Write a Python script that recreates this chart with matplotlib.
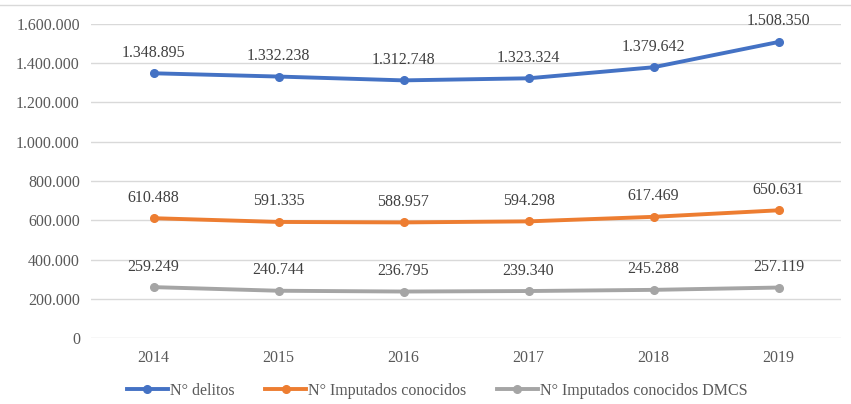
import matplotlib
matplotlib.use("Agg")
import matplotlib.pyplot as plt
from matplotlib.ticker import FuncFormatter
from matplotlib.lines import Line2D

years = ["2014", "2015", "2016", "2017", "2018", "2019"]
delitos = [1348895, 1332238, 1312748, 1323324, 1379642, 1508350]
imputados = [610488, 591335, 588957, 594298, 617469, 650631]
imputados_dmcs = [259249, 240744, 236795, 239340, 245288, 257119]

series_names = ["N° delitos", "N° Imputados conocidos", "N° Imputados conocidos DMCS"]
colors = ["#4472C4", "#ED7D31", "#A5A5A5"]

plt.rcParams["font.family"] = ["Liberation Serif", "DejaVu Serif"]
text_color = "#595959"


def fmt_thousands(v):
    return f"{int(round(v)):,}".replace(",", ".")


fig = plt.figure(figsize=(8.51, 4.04), dpi=100)
ax = fig.add_axes([91 / 851, 1 - 338 / 404, (841 - 91) / 851, (338 - 24) / 404])

x = list(range(len(years)))
for vals, name, c in zip([delitos, imputados, imputados_dmcs], series_names, colors):
    ax.plot(x, vals, color=c, lw=2.8, marker="o", ms=5.5, label=name,
            solid_capstyle="round", zorder=3)
    for xi, v in zip(x, vals):
        ax.annotate(fmt_thousands(v), (xi, v), xytext=(0, 9), textcoords="offset points",
                    ha="center", va="bottom", fontsize=11.5, color="#404040")

ax.set_xlim(-0.5, len(years) - 0.5)
ax.set_ylim(0, 1600000)
ax.set_yticks(range(0, 1600001, 200000))
ax.yaxis.set_major_formatter(FuncFormatter(lambda v, p: fmt_thousands(v)))
ax.set_xticks(x)
ax.set_xticklabels(years)
ax.tick_params(axis="both", length=0, labelsize=11.5, labelcolor=text_color)
ax.tick_params(axis="y", pad=8)
ax.tick_params(axis="x", pad=9)
ax.grid(axis="y", color="#D9D9D9", lw=1)
ax.set_axisbelow(True)
for s in ax.spines.values():
    s.set_visible(False)

handles = [Line2D([0], [0], color=c, lw=2.8, marker="o", ms=5.5) for c in colors]
fig.legend(handles, series_names, loc="center", bbox_to_anchor=(437 / 851, 1 - 391 / 404),
           ncol=3, frameon=False, fontsize=11.5, labelcolor=text_color,
           handlelength=2.6, handletextpad=0.1, columnspacing=1.9)

# thin border line along the top of the chart area
fig.add_artist(Line2D([0, 1], [1 - 5 / 404, 1 - 5 / 404], transform=fig.transFigure,
                      color="#D9D9D9", lw=1))

fig.savefig("out.png", dpi=100)
